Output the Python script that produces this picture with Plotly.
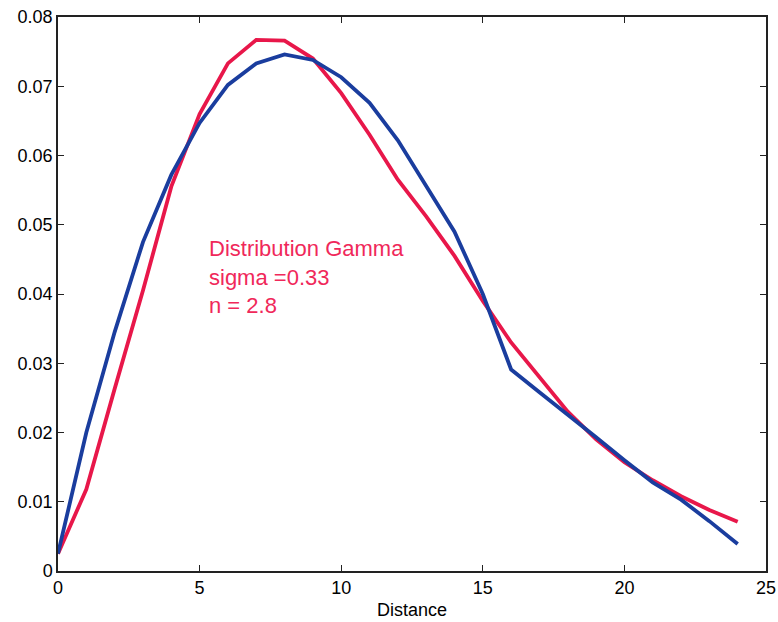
import plotly.graph_objects as go

distance = list(range(25))
red_gamma = [0.0025, 0.0118, 0.0263, 0.0405, 0.0555, 0.0660, 0.0733, 0.0767, 0.0766, 0.0740,
             0.0690, 0.0630, 0.0565, 0.0512, 0.0455, 0.0390, 0.0330, 0.0280, 0.0230, 0.0190,
             0.0157, 0.0131, 0.0108, 0.0088, 0.0071]
blue_data = [0.0025, 0.0200, 0.0345, 0.0475, 0.0572, 0.0647, 0.0702, 0.0733, 0.0746, 0.0738,
             0.0713, 0.0676, 0.0622, 0.0555, 0.0490, 0.0400, 0.0291, 0.0258, 0.0226, 0.0193,
             0.0160, 0.0128, 0.0103, 0.0072, 0.0039]
x_ticks = [0, 5, 10, 15, 20, 25]
y_ticks = [0, 0.01, 0.02, 0.03, 0.04, 0.05, 0.06, 0.07, 0.08]
y_labels = ["0", "0.01", "0.02", "0.03", "0.04", "0.05", "0.06", "0.07", "0.08"]
annot_lines = ["Distribution Gamma", "sigma =0.33", "n = 2.8"]

fig = go.Figure()
fig.add_trace(go.Scatter(x=distance, y=red_gamma, mode="lines",
                         line=dict(color="#e8174a", width=3.8), showlegend=False))
fig.add_trace(go.Scatter(x=distance, y=blue_data, mode="lines",
                         line=dict(color="#1a3d9e", width=3.8), showlegend=False))

fig.add_annotation(x=5.25, y=0.0486, xref="x", yref="y", xanchor="left", yanchor="top",
                   text="<br>".join(annot_lines), showarrow=False, align="left",
                   font=dict(family="Liberation Sans, Arial", size=22, color="#f0285a"))

axis_common = dict(showline=True, linecolor="#222222", linewidth=1.5, mirror="ticks",
                   ticks="inside", ticklen=6, tickcolor="#222222", showgrid=False,
                   zeroline=False, automargin=False,
                   tickfont=dict(family="Liberation Sans, Arial", size=18, color="#000000"))

fig.update_xaxes(range=[0, 25], tickvals=x_ticks, ticktext=[str(t) for t in x_ticks],
                 title=dict(text="Distance", standoff=6,
                            font=dict(family="Liberation Sans, Arial", size=18, color="#000000")),
                 **axis_common)
fig.update_yaxes(range=[0, 0.08], tickvals=y_ticks, ticktext=y_labels, **axis_common)

fig.update_layout(width=778, height=622, margin=dict(l=58, r=12, t=17, b=51),
                  plot_bgcolor="white", paper_bgcolor="white")

fig.write_html("out.html")
